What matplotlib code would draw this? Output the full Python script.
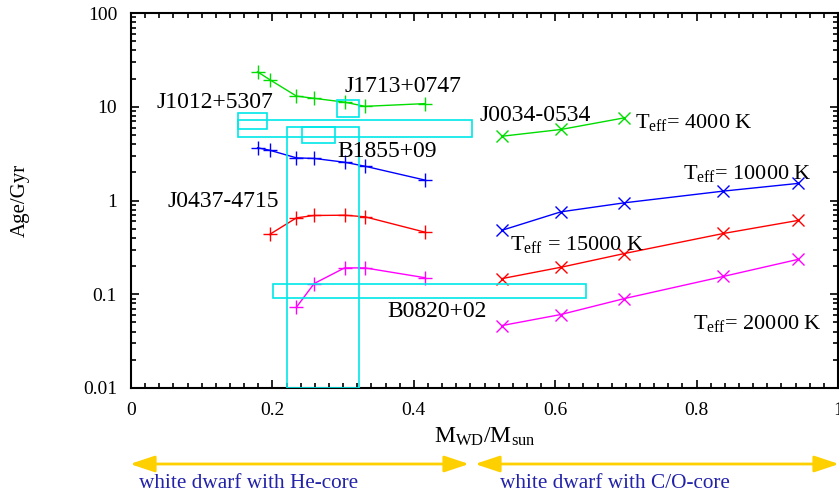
import matplotlib
matplotlib.use('Agg')
import matplotlib.pyplot as plt
from matplotlib.patches import Rectangle, FancyArrowPatch
from matplotlib.ticker import MultipleLocator, LogLocator, NullFormatter, FixedLocator, FixedFormatter

plt.rcParams['font.family'] = 'Liberation Serif'
plt.rcParams['mathtext.fontset'] = 'custom'
plt.rcParams['mathtext.rm'] = 'Liberation Serif'
plt.rcParams['mathtext.it'] = 'Liberation Serif:italic'

# He-core white dwarf tracks (plus markers)
he_mass = [0.179, 0.196, 0.234, 0.259, 0.302, 0.331, 0.416]
he_age_4000 = [23.6, 19.5, 13.0, 12.3, 11.2, 10.1, 10.8]
he_age_10000 = [3.65, 3.44, 2.85, 2.81, 2.56, 2.32, 1.65]
he_mass_15000 = [0.196, 0.234, 0.259, 0.302, 0.331, 0.416]
he_age_15000 = [0.434, 0.653, 0.692, 0.697, 0.670, 0.459]
he_mass_20000 = [0.234, 0.259, 0.302, 0.331, 0.416]
he_age_20000 = [0.0728, 0.130, 0.191, 0.191, 0.150]

# C/O-core white dwarf tracks (cross markers)
co_mass = [0.525, 0.608, 0.698, 0.838, 0.943]
co_age_4000 = [4.85, 5.72, 7.62]
co_age_10000 = [0.482, 0.757, 0.945, 1.26, 1.52]
co_age_15000 = [0.147, 0.194, 0.272, 0.445, 0.612]
co_age_20000 = [0.0464, 0.0608, 0.090, 0.155, 0.235]

# pulsar companion boxes: mass_lo, mass_hi, age_lo, age_hi
boxes = [
    (0.151, 0.192, 5.72, 8.6),
    (0.151, 0.483, 4.78, 7.31),
    (0.292, 0.322, 7.8, 11.9),
    (0.242, 0.288, 4.06, 6.11),
    (0.221, 0.322, 0.01, 6.1),
    (0.201, 0.644, 0.0907, 0.130),
]

W, H = 839, 493
fig = plt.figure(figsize=(W / 100, H / 100), dpi=100)
ax = fig.add_axes([131 / W, (H - 388) / H, (838 - 131) / W, (388 - 13) / H])

lw = 1.0
ax.plot(he_mass, he_age_4000, '-+', color='#00dd00', lw=lw, ms=10, mew=1)
ax.plot(he_mass, he_age_10000, '-+', color='#0000ff', lw=lw, ms=10, mew=1)
ax.plot(he_mass_15000, he_age_15000, '-+', color='#ff0000', lw=lw, ms=10, mew=1)
ax.plot(he_mass_20000, he_age_20000, '-+', color='#ff00ff', lw=lw, ms=10, mew=1)

ax.plot(co_mass[:3], co_age_4000, '-x', color='#00dd00', lw=lw, ms=9, mew=1)
ax.plot(co_mass, co_age_10000, '-x', color='#0000ff', lw=lw, ms=9, mew=1)
ax.plot(co_mass, co_age_15000, '-x', color='#ff0000', lw=lw, ms=9, mew=1)
ax.plot(co_mass, co_age_20000, '-x', color='#ff00ff', lw=lw, ms=9, mew=1)

for m0, m1, a0, a1 in boxes:
    ax.add_patch(Rectangle((m0, a0), m1 - m0, a1 - a0, fill=False,
                           edgecolor='#00e8e8', lw=1.2, zorder=3))

fs = 17
ax.text(0.0364, 11.1, 'J1012+5307', fontsize=fs, va='center')
ax.text(0.3015, 16.4, 'J1713+0747', fontsize=fs, va='center')
ax.text(0.4926, 8.07, 'J0034-0534', fontsize=fs, va='center')
ax.text(0.2916, 3.33, 'B1855+09', fontsize=fs, va='center')
ax.text(0.051, 0.983, 'J0437-4715', fontsize=fs, va='center')
ax.text(0.362, 0.0659, 'B0820+02', fontsize=fs, va='center')

ft = 16
ax.text(0.713, 6.79, r'T$_{\rm eff}$= 4000 K', fontsize=ft, va='center')
ax.text(0.781, 1.94, r'T$_{\rm eff}$= 10000 K', fontsize=ft, va='center')
ax.text(0.536, 0.340, r'T$_{\rm eff}$ = 15000 K', fontsize=ft, va='center')
ax.text(0.795, 0.0488, r'T$_{\rm eff}$= 20000 K', fontsize=ft, va='center')

ax.set_yscale('log')
ax.set_xlim(0, 1)
ax.set_ylim(0.01, 100)
ax.xaxis.set_major_locator(FixedLocator([0, 0.2, 0.4, 0.6, 0.8, 1.0]))
ax.xaxis.set_major_formatter(FixedFormatter(['0', '0.2', '0.4', '0.6', '0.8', '1']))
ax.xaxis.set_minor_locator(MultipleLocator(0.02))
ax.yaxis.set_major_locator(FixedLocator([0.01, 0.1, 1, 10, 100]))
ax.yaxis.set_major_formatter(FixedFormatter(['0.01', '0.1', '1', '10', '100']))
ax.yaxis.set_minor_locator(LogLocator(base=10, subs=range(2, 10)))
ax.yaxis.set_minor_formatter(NullFormatter())
ax.tick_params(which='both', direction='in', top=True, right=True, labelsize=14, width=1.2)
ax.tick_params(which='major', length=6, pad=10)
ax.tick_params(which='minor', length=3.5)
for s in ax.spines.values():
    s.set_linewidth(1.5)

ax.set_xlabel(r'M$_{\rm WD}$/M$_{\rm sun}$', fontsize=17, labelpad=5)
ax.set_ylabel('Age/Gyr', fontsize=15, labelpad=38)

# core-type arrows below the axis
yarr = 1 - 464 / H
arrow_kw = dict(arrowstyle='<|-|>,head_length=1.5,head_width=0.5', color='#ffd000', lw=2,
                shrinkA=0, shrinkB=0, mutation_scale=10)
fig.add_artist(FancyArrowPatch((130 / W, yarr), (469 / W, yarr),
                               transform=fig.transFigure, **arrow_kw))
fig.add_artist(FancyArrowPatch((475 / W, yarr), (839 / W, yarr),
                               transform=fig.transFigure, **arrow_kw))
ytxt = 1 - 484 / H
fig.text(139 / W, ytxt, 'white dwarf with He-core', color='#2222aa', fontsize=15.3, va='center')
fig.text(500 / W, ytxt, 'white dwarf with C/O-core', color='#2222aa', fontsize=15.3, va='center')

fig.savefig('out.png', dpi=100)
